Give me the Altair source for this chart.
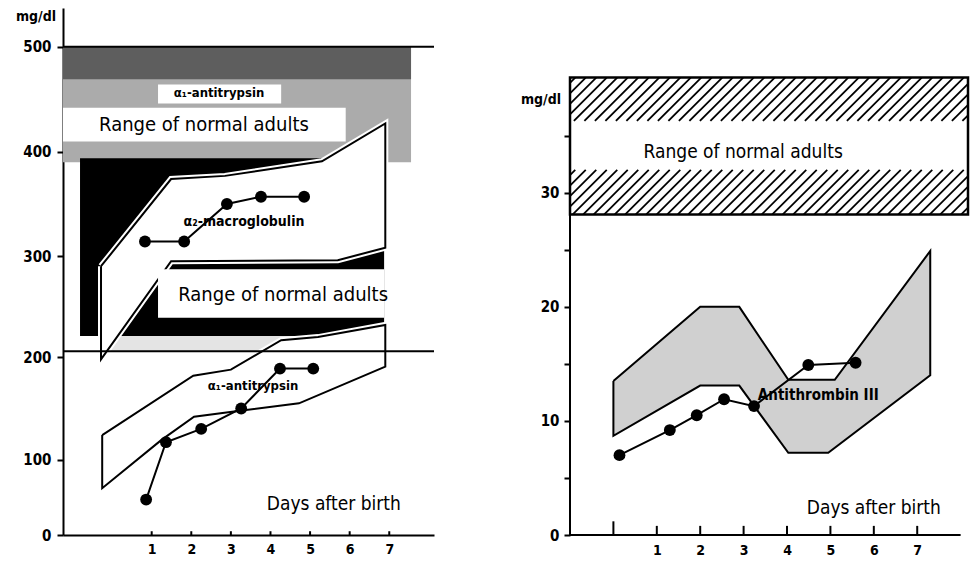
import altair as alt
import numpy as np
import pandas as pd

FONT = "DejaVu Sans Condensed"

# ================= LEFT PANEL DATA (days after birth, mg/dl) =================
L_XTICKS = [1, 2, 3, 4, 5, 6, 7]
L_YTICKS = [0, 100, 200, 300, 400, 500]

# alpha1-antitrypsin, newborn values
aat_days = [0.86, 1.36, 2.25, 3.26, 4.24, 5.08]
aat_vals = [47, 117, 130, 150, 189, 189]
# alpha2-macroglobulin, newborn values
a2m_days = [0.83, 1.82, 2.90, 3.76, 4.85]
a2m_vals = [314, 314, 350, 357, 357]

# newborn ranges (closed polygons: upper edge left->right, lower edge right->left)
a2m_band_x = [-0.28, 1.49, 2.85, 5.30, 6.90, 6.90, 5.70, 1.49, -0.28, -0.28]
a2m_band_y = [290, 374, 377, 391, 427, 308, 296, 295, 198, 290]
aat_band_x = [-0.25, 2.05, 3.00, 4.27, 5.20, 6.90, 6.90, 4.72, 3.08, 2.07, 1.24, -0.25, -0.25]
aat_band_y = [124, 182, 188, 217, 220, 232, 191, 155, 147, 142, 119, 62, 124]

# ranges of normal adults
aat_adult = [390, 500]
aat_adult_dense = [469, 500]
a2m_adult = [221, 394]
L_REF_LINES = [500, 206]

# ================= RIGHT PANEL DATA (antithrombin III) =================
R_XTICKS = [1, 2, 3, 4, 5, 6, 7]
R_XTICK_MARKS = [0, 1, 2, 3, 4, 5, 6, 7]
R_YTICKS = [0, 5, 10, 15, 20, 25, 30, 35]
at3_days = [0.14, 1.30, 1.92, 2.55, 3.24, 4.49, 5.58]
at3_vals = [7.0, 9.2, 10.5, 11.9, 11.3, 14.9, 15.1]
at3_band_x = [0.0, 2.0, 2.9, 4.03, 5.1, 7.3, 7.3, 4.95, 4.03, 2.9, 2.0, 0.0, 0.0]
at3_band_y = [13.5, 20.0, 20.0, 13.6, 13.6, 24.9, 14.0, 7.2, 7.2, 13.1, 13.1, 8.7, 13.5]
at3_adult = [28.1, 40.1]
at3_adult_gap = [32.0, 36.3]

# ================= geometry / scales =================
LW, LH = 371, 527
L_XDOM = [-1.24, 8.13]
# the printed left axis is not evenly spaced (0-100 is compressed): piecewise scale
L_YDOM = [0, 100, 200, 300, 400, 500, 537]
_L_AXIS_PX = [539, 463, 360, 258, 153, 47, 8]
L_YRANGE = [(p - 8) * LH / 531 for p in _L_AXIS_PX]
RW, RH = 398, 527
R_XDOM = [-1.0, 8.17]
R_YDOM = [0, 46.2]

lx_scale = alt.Scale(domain=L_XDOM, nice=False, zero=False)
ly_scale = alt.Scale(domain=L_YDOM, range=L_YRANGE, nice=False, zero=False)
rx_scale = alt.Scale(domain=R_XDOM, nice=False, zero=False)
ry_scale = alt.Scale(domain=R_YDOM, nice=False, zero=False)

lx_axis = alt.Axis(values=L_XTICKS, ticks=False, grid=False, title=None, domain=True,
                   domainWidth=2, domainColor="black", labelFont=FONT, labelFontSize=14,
                   labelFontWeight="bold", labelPadding=7, labelColor="black")
ly_axis = alt.Axis(values=L_YTICKS, grid=False, title=None, domain=True, domainWidth=2,
                   domainColor="black", tickSize=6, tickWidth=2, tickColor="black",
                   labelFont=FONT, labelFontSize=15, labelFontWeight="bold",
                   labelPadding=6, labelColor="black")
rx_axis = alt.Axis(values=R_XTICKS, ticks=False, grid=False, title=None, domain=False,
                   labelFont=FONT, labelFontSize=14, labelFontWeight="bold",
                   labelPadding=8, labelColor="black")
ry_axis = alt.Axis(values=R_YTICKS, grid=False, title=None, domain=False, tickSize=6,
                   tickWidth=2, tickColor="black", labelFont=FONT, labelFontSize=15,
                   labelFontWeight="bold", labelPadding=5, labelColor="black",
                   labelExpr="datum.value % 10 == 0 ? datum.label : ''")


def LX(f="x"):
    return alt.X(f"{f}:Q", scale=lx_scale, axis=lx_axis)


def LY(f="y"):
    return alt.Y(f"{f}:Q", scale=ly_scale, axis=ly_axis)


def RX(f="x"):
    return alt.X(f"{f}:Q", scale=rx_scale, axis=rx_axis)


def RY(f="y"):
    return alt.Y(f"{f}:Q", scale=ry_scale, axis=ry_axis)


def poly_df(xs, ys):
    return pd.DataFrame({"x": xs, "y": ys, "i": range(len(xs))})


def polygon(df, X, Y, fill, stroke_w=2):
    return [
        alt.Chart(df).mark_line(fill=fill, stroke=fill, strokeWidth=6).encode(
            x=X(), y=Y(), order="i:Q"),
        alt.Chart(df).mark_line(color="black", strokeWidth=stroke_w, strokeJoin="miter").encode(
            x=X(), y=Y(), order="i:Q"),
    ]


# ================= LEFT PANEL =================
back_rects = pd.DataFrame([
    {"x": L_XDOM[0], "x2": 7.55, "y": aat_adult[0], "y2": aat_adult[1], "c": "#ababab"},
    {"x": L_XDOM[0], "x2": 7.55, "y": aat_adult_dense[0], "y2": aat_adult_dense[1], "c": "#5e5e5e"},
    {"x": L_XDOM[0], "x2": 5.90, "y": 410, "y2": 442, "c": "white"},
    {"x": 1.16, "x2": 4.27, "y": 446, "y2": 464, "c": "white"},
    {"x": -0.30, "x2": 6.87, "y": 206, "y2": a2m_adult[0], "c": "#e4e4e4"},
    {"x": -0.81, "x2": 6.87, "y": a2m_adult[0], "y2": a2m_adult[1], "c": "black"},
])
l_back = alt.Chart(back_rects).mark_rect().encode(
    x=LX(), x2="x2:Q", y=LY(), y2="y2:Q", color=alt.Color("c:N", scale=None))

a2m_poly = polygon(poly_df(a2m_band_x, a2m_band_y), LX, LY, "white")

lower_box = alt.Chart(pd.DataFrame([{"x": 1.16, "x2": 6.87, "y": 239, "y2": 287}])).mark_rect(
    color="white").encode(x=LX(), x2="x2:Q", y=LY(), y2="y2:Q")

aat_poly = polygon(poly_df(aat_band_x, aat_band_y), LX, LY, "white")

ref_lines = alt.Chart(pd.DataFrame({"y": L_REF_LINES, "x": L_XDOM[0], "x2": L_XDOM[1]})).mark_rule(
    color="black", strokeWidth=2).encode(x=LX(), x2="x2:Q", y=LY())

aat_df = pd.DataFrame({"x": aat_days, "y": aat_vals})
a2m_df = pd.DataFrame({"x": a2m_days, "y": a2m_vals})
l_series = []
for d in (aat_df, a2m_df):
    l_series.append(alt.Chart(d).mark_line(color="black", strokeWidth=2).encode(x=LX(), y=LY()))
    l_series.append(alt.Chart(d).mark_circle(color="black", size=140, opacity=1).encode(x=LX(), y=LY()))

l_ticks = alt.Chart(pd.DataFrame({"x": L_XTICKS, "y": 0, "y2": 5})).mark_rule(
    color="black", strokeWidth=2).encode(x=LX(), y=LY(), y2="y2:Q")

l_text_df = pd.DataFrame([
    {"x": 2.70, "y": 456, "t": "α₁-antitrypsin", "s": 13, "w": "bold"},
    {"x": 2.32, "y": 426, "t": "Range of normal adults", "s": 20, "w": "normal"},
    {"x": 3.33, "y": 333, "t": "α₂-macroglobulin", "s": 14, "w": "bold"},
    {"x": 4.32, "y": 262, "t": "Range of normal adults", "s": 20, "w": "normal"},
    {"x": 3.56, "y": 172, "t": "α₁-antitrypsin", "s": 13, "w": "bold"},
    {"x": 5.60, "y": 41, "t": "Days after birth", "s": 19, "w": "normal"},
])
l_texts = []
for w in ("bold", "normal"):
    sub = l_text_df[l_text_df.w == w]
    for s in sorted(sub.s.unique()):
        l_texts.append(alt.Chart(sub[sub.s == s]).mark_text(
            font=FONT, fontSize=int(s), fontWeight=w, color="black", baseline="middle", align="center"
        ).encode(x=LX(), y=LY(), text="t:N"))

l_unit = alt.Chart(pd.DataFrame([{"x": L_XDOM[0], "y": 528, "t": "mg/dl"}])).mark_text(
    font=FONT, fontSize=14, fontWeight="bold", color="black", align="right", baseline="middle", dx=-7
).encode(x=LX(), y=LY(), text="t:N")

left = alt.layer(
    l_back, *a2m_poly, lower_box, *aat_poly, ref_lines, *l_series, *l_texts, l_unit, l_ticks
).properties(width=LW, height=LH)

# ================= RIGHT PANEL =================
PX_DAY = RW / (R_XDOM[1] - R_XDOM[0])
PX_UNIT = RH / (R_YDOM[1] - R_YDOM[0])


def hatch(y0, y1, x0, x1, step_px=10.5):
    h_px = (y1 - y0) * PX_UNIT
    dx = h_px / PX_DAY            # 45 degree slant
    step = step_px / PX_DAY
    rows = []
    for xb in np.arange(x0 - dx + step / 2, x1, step):
        xt = xb + dx
        ax, ay, bx, by = xb, y0, xt, y1
        if ax < x0:
            t = (x0 - ax) / dx
            ax, ay = x0, y0 + t * (y1 - y0)
        if bx > x1:
            t = (x1 - xb) / dx
            bx, by = x1, y0 + t * (y1 - y0)
        rows.append({"x": ax, "y": ay, "x2": bx, "y2": by})
    return rows


hatch_df = pd.DataFrame(hatch(at3_adult[0], at3_adult_gap[0], R_XDOM[0], R_XDOM[1])
                        + hatch(at3_adult_gap[1], at3_adult[1], R_XDOM[0], R_XDOM[1]))

r_box = alt.Chart(pd.DataFrame([{"x": R_XDOM[0], "x2": R_XDOM[1], "y": at3_adult[0], "y2": at3_adult[1]}])
                  ).mark_rect(fill="white", stroke="black", strokeWidth=2.5).encode(
    x=RX(), x2="x2:Q", y=RY(), y2="y2:Q")
r_hatch = alt.Chart(hatch_df).mark_rule(color="black", strokeWidth=1.8).encode(
    x=RX(), y=RY(), x2="x2:Q", y2="y2:Q")

r_band = alt.Chart(poly_df(at3_band_x, at3_band_y)).mark_line(
    fill="#d0d0d0", color="black", strokeWidth=2, strokeJoin="miter").encode(
    x=RX(), y=RY(), order="i:Q")

at3_df = pd.DataFrame({"x": at3_days, "y": at3_vals})
r_line = alt.Chart(at3_df).mark_line(color="black", strokeWidth=2).encode(x=RX(), y=RY())
r_pts = alt.Chart(at3_df).mark_circle(color="black", size=140, opacity=1).encode(x=RX(), y=RY())

r_axes = alt.Chart(pd.DataFrame([
    {"x": R_XDOM[0], "x2": R_XDOM[0], "y": 0, "y2": at3_adult[1]},
    {"x": R_XDOM[0], "x2": 8.0, "y": 0, "y2": 0},
])).mark_rule(color="black", strokeWidth=2).encode(x=RX(), x2="x2:Q", y=RY(), y2="y2:Q")

r_ticks = alt.Chart(pd.DataFrame({"x": R_XTICK_MARKS, "y": 0,
                                  "y2": [1.2] + [0.8] * 7})).mark_rule(
    color="black", strokeWidth=2).encode(x=RX(), y=RY(), y2="y2:Q")

r_text_big = alt.Chart(pd.DataFrame([
    {"x": 2.99, "y": 33.6, "t": "Range of normal adults"},
    {"x": 6.00, "y": 2.4, "t": "Days after birth"},
])).mark_text(font=FONT, fontSize=19, color="black", align="center", baseline="middle").encode(
    x=RX(), y=RY(), text="t:N")
r_text_small = alt.Chart(pd.DataFrame([{"x": 4.72, "y": 12.3, "t": "Antithrombin III"}])).mark_text(
    font=FONT, fontSize=15, fontWeight="bold", color="black", align="center", baseline="middle").encode(
    x=RX(), y=RY(), text="t:N")
r_unit = alt.Chart(pd.DataFrame([{"x": R_XDOM[0], "y": 38.1, "t": "mg/dl"}])).mark_text(
    font=FONT, fontSize=14, fontWeight="bold", color="black", align="right", baseline="middle", dx=-9
).encode(x=RX(), y=RY(), text="t:N")

right = alt.layer(
    r_box, r_hatch, r_band, r_line, r_pts, r_axes, r_ticks, r_text_big, r_text_small, r_unit
).properties(width=RW, height=RH)

chart = alt.hconcat(left, right, spacing=85).properties(
    padding={"left": 7, "top": 0, "right": 0, "bottom": 0}
).configure(background="white").configure_view(strokeWidth=0, stroke="transparent")

chart.save("out.html", embed_options={"renderer": "svg", "actions": False})
